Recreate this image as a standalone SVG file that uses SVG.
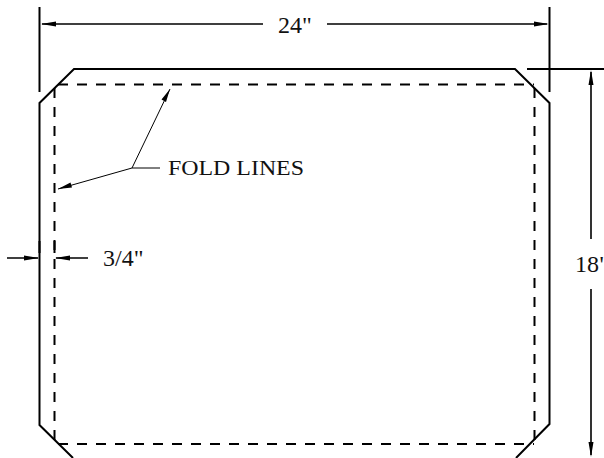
<svg xmlns="http://www.w3.org/2000/svg" width="604" height="458" viewBox="0 0 604 458">
<style>
.o{fill:none;stroke:#000;stroke-width:2}
.d{fill:none;stroke:#000;stroke-width:2;stroke-dasharray:10 9}
.m{fill:none;stroke:#000;stroke-width:1.6}
.l{fill:none;stroke:#000;stroke-width:1}
.a{fill:#000;stroke:none}
text{font-family:"Liberation Serif","Times New Roman",serif;fill:#111;font-size:24px}
</style>
<rect width="604" height="458" fill="#fff"/>
<g id="sheet">
<path class="o" d="M73 458L39.500 425V103L74 69H515L549.500 103V424L516 458"/>
</g>
<g id="fold-lines">
<path class="d" d="M58 84.500H534"/>
<path class="d" d="M54.500 88V441"/>
<path class="d" d="M534.500 88V441"/>
<path class="d" d="M58 444H534"/>
</g>
<g id="connectors">
<path class="o" d="M39.500 7V92M549.500 7V92M527 69H604"/>
<path class="m" d="M42 24H263M327 24H547M591 72V239M591 289V455M7 258H38M56 258H88"/>
<path class="l" d="M170 89L132 168L58 189M132 168H160"/>
<path class="o" d="M39.500 241V253M54.500 241V253"/>
<path class="a" d="M41 24L56 21.500V26.500ZM549 24L534 21.500V26.500ZM591 70L588.500 85H593.500ZM591 457L588.500 442H593.500ZM39 258L24 255.500V260.500ZM55 258L70 255.500V260.500ZM170 89L161.500 99.500L166 102ZM58 189L70.500 182.500L72 187.500Z"/>
</g>
<g id="labels">
<text x="278" y="33">24"</text>
<text x="575" y="272">18"</text>
<text x="103" y="266">3/4"</text>
<text x="168" y="175" font-size="22" style="font-size:22px" textLength="136" lengthAdjust="spacingAndGlyphs">FOLD LINES</text>
</g>
</svg>
